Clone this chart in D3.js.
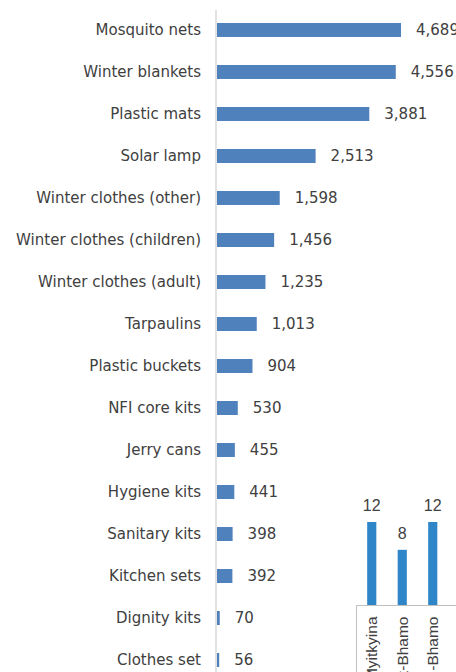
<!DOCTYPE html>
<html>
<head>
  <style>
    body { margin: 0; background: #fff; }
    svg { display: block; }
  </style>
</head>
<body>
  <div id="chart"></div>
  <script src="https://d3js.org/d3.v7.min.js"></script>
  <script>
    // items distributed
    const items = ["Mosquito nets", "Winter blankets", "Plastic mats", "Solar lamp",
      "Winter clothes (other)", "Winter clothes (children)", "Winter clothes (adult)",
      "Tarpaulins", "Plastic buckets", "NFI core kits", "Jerry cans", "Hygiene kits",
      "Sanitary kits", "Kitchen sets", "Dignity kits", "Clothes set"];
    const quantities = [4689, 4556, 3881, 2513, 1598, 1456, 1235, 1013, 904, 530, 455, 441, 398, 392, 70, 56];

    // second chart (cut off at the edge)
    const places = ["Waingmaw-Myitkyina", "Momauk-Bhamo", "Shwegu-Bhamo"];
    const counts = [12, 8, 12];

    const width = 456, height = 672;
    const mainFont = "'DejaVu Sans', sans-serif";
    const textColor = "#404040";

    const svg = d3.select("#chart").append("svg")
      .attr("width", width)
      .attr("height", height);

    const x = d3.scaleLinear().domain([0, 5000]).range([217, 413.2]);
    const y = d3.scaleBand().domain(items).range([9, 681])
      .paddingInner(0.667).paddingOuter(0.333);

    svg.selectAll("rect.bar")
      .data(items)
      .enter().append("rect")
      .attr("class", "bar")
      .attr("x", x(0))
      .attr("y", d => y(d))
      .attr("width", (d, i) => x(quantities[i]) - x(0))
      .attr("height", y.bandwidth())
      .attr("fill", "#4f81bd");

    // category labels
    svg.selectAll("text.cat")
      .data(items)
      .enter().append("text")
      .attr("class", "cat")
      .attr("x", 201)
      .attr("y", d => y(d) + y.bandwidth() / 2)
      .attr("dy", "0.35em")
      .attr("text-anchor", "end")
      .attr("font-family", mainFont)
      .attr("font-size", 15)
      .attr("fill", textColor)
      .text(d => d);

    // value labels
    svg.selectAll("text.val")
      .data(items)
      .enter().append("text")
      .attr("class", "val")
      .attr("x", (d, i) => x(quantities[i]) + 15)
      .attr("y", d => y(d) + y.bandwidth() / 2)
      .attr("dy", "0.35em")
      .attr("font-family", mainFont)
      .attr("font-size", 15)
      .attr("fill", textColor)
      .text((d, i) => d3.format(",")(quantities[i]));

    // axis line
    svg.append("line")
      .attr("x1", 216).attr("x2", 216)
      .attr("y1", 10).attr("y2", height)
      .attr("stroke", "#d9d9d9")
      .attr("stroke-width", 1.5);

    // small vertical chart
    const x2 = d3.scaleBand().domain(places).range([356.5, 448])
      .paddingInner(0.7).paddingOuter(0.35);
    const y2 = d3.scaleLinear().domain([0, 12]).range([605.5, 522]);
    const smallFont = "'Liberation Sans', Arial, sans-serif";

    svg.selectAll("rect.small")
      .data(places)
      .enter().append("rect")
      .attr("class", "small")
      .attr("x", d => x2(d))
      .attr("y", (d, i) => y2(counts[i]))
      .attr("width", x2.bandwidth())
      .attr("height", (d, i) => y2(0) - y2(counts[i]))
      .attr("fill", "#2e86c8");

    svg.selectAll("text.smallval")
      .data(places)
      .enter().append("text")
      .attr("class", "smallval")
      .attr("x", d => x2(d) + x2.bandwidth() / 2)
      .attr("y", (d, i) => y2(counts[i]) - 11)
      .attr("text-anchor", "middle")
      .attr("font-family", smallFont)
      .attr("font-size", 16)
      .attr("fill", textColor)
      .text((d, i) => counts[i]);

    svg.selectAll("text.place")
      .data(places)
      .enter().append("text")
      .attr("class", "place")
      .attr("transform", d => `translate(${x2(d) + x2.bandwidth() / 2},${y2(0) + 11}) rotate(-90)`)
      .attr("dy", "0.35em")
      .attr("text-anchor", "end")
      .attr("font-family", smallFont)
      .attr("font-size", 15.5)
      .attr("fill", textColor)
      .text(d => d);

    svg.append("path")
      .attr("d", `M${width},${y2(0)}H356.5V${height}`)
      .attr("fill", "none")
      .attr("stroke", "#bfbfbf")
      .attr("stroke-width", 1);
  </script>
</body>
</html>
